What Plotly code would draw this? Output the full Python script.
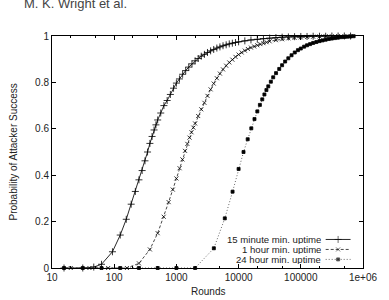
import plotly.graph_objects as go

# ---- data ----
rounds_15m = [15.6, 31.25, 46.9, 62.5, 93.75, 125, 156.25, 187.5, 218.75, 250, 281.25, 312.5,
              343.75, 375, 406.25, 437.5, 468.75, 500, 560, 630, 710, 800, 900, 1000, 1120,
              1260, 1410, 1580, 1780, 2000, 2240, 2510, 2820, 3160, 3550, 3980, 4470, 5010,
              5620, 6310, 7080, 7940, 8910, 10000, 12600, 15800, 20000, 25100, 31600, 39800,
              50100, 63100, 79400, 100000, 126000, 158000, 200000, 251000, 316000, 398000,
              501000, 631000]
prob_15m = [0, 0, 0.004, 0.016, 0.07, 0.142, 0.21, 0.275, 0.33, 0.38, 0.42, 0.462,
            0.50, 0.537, 0.567, 0.595, 0.617, 0.638, 0.668, 0.70, 0.722, 0.748, 0.775, 0.797, 0.815,
            0.835, 0.851, 0.866, 0.88, 0.893, 0.903, 0.913, 0.921, 0.929, 0.936, 0.942, 0.948, 0.953,
            0.958, 0.962, 0.966, 0.969, 0.972, 0.975, 0.979, 0.983, 0.986, 0.989, 0.991, 0.993,
            0.995, 0.996, 0.997, 0.998, 0.998, 0.999, 0.999, 0.999, 1.0, 1.0,
            1.0, 1.0]

rounds_1h = [20, 40, 80, 160, 250, 375, 500, 625, 750, 875, 1000, 1125, 1250, 1375, 1500,
             1625, 1750, 1875, 2000, 2240, 2510, 2820, 3160, 3550, 3980, 4470, 5010, 5620,
             6310, 7080, 7940, 8910, 10000, 11200, 12600, 14100, 15800, 17800, 20000, 22400,
             25100, 28200, 31600, 39800, 50100, 63100, 79400, 100000, 126000, 158000, 200000,
             251000, 316000, 398000, 501000, 631000]
prob_1h = [0, 0, 0, 0, 0.02, 0.08, 0.15, 0.221, 0.284, 0.338, 0.386, 0.43, 0.468, 0.505, 0.535,
           0.562, 0.585, 0.605, 0.623, 0.655, 0.684, 0.712, 0.742, 0.77, 0.795, 0.818, 0.838, 0.856,
           0.872, 0.886, 0.898, 0.91, 0.92, 0.929, 0.937, 0.944, 0.95, 0.955, 0.96, 0.965,
           0.969, 0.973, 0.977, 0.982, 0.986, 0.99, 0.992, 0.994, 0.996, 0.997, 0.998,
           0.999, 0.999, 1.0, 1.0, 1.0]

rounds_24h = [15.6, 31.25, 62.5, 125, 250, 500, 1000, 2000, 4000, 6000, 8000, 10000, 12000,
              14000, 16000, 18000, 20000, 22000, 24000, 26000, 28000, 30000, 33000, 36000,
              40000, 45000, 50000, 56000, 63000, 71000, 80000, 90000, 100000, 113000, 126000,
              141000, 158000, 178000, 200000, 224000, 251000, 282000, 316000, 355000, 398000,
              447000, 501000, 562000, 631000, 708000]
prob_24h = [0, 0, 0, 0, 0, 0, 0, 0, 0.085, 0.214, 0.329, 0.427, 0.50,
            0.555, 0.602, 0.642, 0.675, 0.703, 0.727, 0.748, 0.767, 0.783, 0.803, 0.822,
            0.84, 0.858, 0.874, 0.89, 0.904, 0.917, 0.929, 0.939, 0.946, 0.954, 0.96,
            0.965, 0.97, 0.974, 0.978, 0.981, 0.984, 0.987, 0.989, 0.991, 0.993,
            0.995, 0.996, 0.997, 0.998, 0.999]

series_names = ["15 minute min. uptime", "1 hour min. uptime", "24 hour min. uptime"]
x_tick_vals = [10, 100, 1000, 10000, 100000, 1000000]
x_tick_text = ["10", "100", "1000", "10000", "100000", "1e+06"]
x_minor_vals = [20, 50, 200, 500, 2000, 5000, 20000, 50000, 200000, 500000]
y_tick_vals = [0, 0.2, 0.4, 0.6, 0.8, 1]
y_tick_text = ["0", "0.2", "0.4", "0.6", "0.8", "1"]

# ---- styles ----
FONT = "Liberation Sans, Arial, sans-serif"
TXT = "#222222"
styles = [
    dict(dash="solid", color="#111111", symbol="cross-thin", size=5),
    dict(dash="3px,2px", color="#333333", symbol="x-thin", size=4),
    dict(dash="1px,2px", color="#555555", symbol="square", size=3),
]
datasets = [(rounds_15m, prob_15m), (rounds_1h, prob_1h), (rounds_24h, prob_24h)]

fig = go.Figure()
for (xs, ys), st, name in zip(datasets, styles, series_names):
    fig.add_trace(go.Scatter(
        x=xs, y=ys, mode="lines+markers", name=name, showlegend=False,
        cliponaxis=False,
        line=dict(color=st["color"], width=0.9, dash=st["dash"]),
        marker=dict(symbol=st["symbol"], size=st["size"], color="#000000",
                    line=dict(color="#000000", width=0.8)),
    ))

# ---- custom gnuplot-style legend (text right-aligned, sample on the right) ----
legend_rows = [0.123, 0.080, 0.037]
for st, name, row in zip(styles, series_names, legend_rows):
    fig.add_trace(go.Scatter(
        x=[0.88, 0.92, 0.96], y=[row, row, row], xaxis="x2", yaxis="y2",
        mode="lines+markers", showlegend=False, hoverinfo="skip",
        line=dict(color=st["color"], width=0.9, dash=st["dash"]),
        marker=dict(symbol=st["symbol"], size=[0, st["size"], 0], color="#000000",
                    line=dict(color="#000000", width=0.8)),
    ))
    fig.add_annotation(x=0.867, y=row, xref="paper", yref="paper", text=name,
                       showarrow=False, xanchor="right", yanchor="middle", height=9,
                       borderpad=0,
                       font=dict(family=FONT, size=9.6, color=TXT))

axis_common = dict(showline=True, linecolor="#000000", linewidth=1, mirror="ticks",
                   ticks="inside", ticklen=4, tickcolor="#000000", tickwidth=1,
                   showgrid=False, zeroline=False,
                   tickfont=dict(family=FONT, size=10, color=TXT))

fig.update_layout(
    width=389, height=300,
    margin=dict(l=52, r=13, t=36, b=32),
    paper_bgcolor="white", plot_bgcolor="white",
    showlegend=False,
    xaxis=dict(type="log", range=[1, 6], tickvals=x_tick_vals, ticktext=x_tick_text,
               ticklabeloverflow="allow",
               minor=dict(tickvals=x_minor_vals, ticks="inside", ticklen=2,
                          tickcolor="#000000", showgrid=False),
               **axis_common),
    yaxis=dict(range=[0, 1], tickvals=y_tick_vals, ticktext=y_tick_text, **axis_common),
    xaxis2=dict(overlaying="x", range=[0, 1], visible=False),
    yaxis2=dict(overlaying="y", range=[0, 1], visible=False),
)

fig.add_annotation(x=0.5, y=-0.1034, xref="paper", yref="paper", text="Rounds",
                   showarrow=False, xanchor="center", yanchor="middle",
                   font=dict(family=FONT, size=10, color=TXT))
fig.add_annotation(x=-0.127, y=0.5, xref="paper", yref="paper",
                   text="Probability of Attacker Success", textangle=-90,
                   showarrow=False, xanchor="center", yanchor="middle",
                   font=dict(family=FONT, size=10, color=TXT))
fig.add_annotation(x=-0.096, y=1.138, xref="paper", yref="paper", text="M. K. Wright et al.",
                   showarrow=False, xanchor="left", yanchor="middle",
                   font=dict(family=FONT, size=13, color="#444444"))

fig.write_html("out.html")
